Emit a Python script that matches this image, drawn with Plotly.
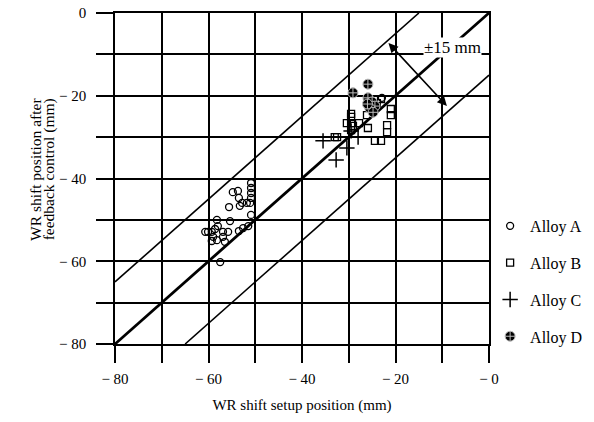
import plotly.graph_objects as go

# Alloy A (open circles)
xA = [-50.9, -50.9, -50.9, -50.9, -54.8, -53.7, -53.5, -52.8, -51.8, -51.1, -53.3, -55.6,
      -50.9, -55.4, -58.2, -58.0, -58.6, -60.7, -60.1, -59.3, -56.9, -55.8, -59.0, -59.3,
      -58.2, -56.9, -56.5, -53.5, -52.6, -51.5, -57.5, -22.9]
yA = [-41.1, -42.3, -43.5, -44.7, -43.3, -43.0, -44.7, -45.9, -45.9, -45.9, -46.6, -46.9,
      -48.8, -50.3, -50.0, -51.5, -52.2, -52.9, -52.9, -52.9, -52.9, -52.9, -54.1, -55.1,
      -54.9, -54.1, -55.3, -52.7, -52.0, -51.5, -60.2, -20.5]
# Alloy B (open squares)
xB = [-29.5, -29.5, -30.4, -29.5, -27.8, -25.9, -29.5, -32.5, -33.0, -24.4, -23.1, -21.8,
      -21.8, -21.0, -21.0, -23.1, -24.0, -25.5, -26.1, -29.1]
yB = [-24.4, -25.1, -26.6, -26.6, -26.6, -27.8, -28.3, -30.0, -30.0, -30.9, -30.9, -28.8,
      -27.1, -23.2, -24.7, -20.8, -21.8, -22.2, -24.7, -27.3]
# Alloy C (plus)
xC = [-35.5, -32.7, -30.4, -28.0, -29.5]
yC = [-30.9, -35.5, -32.6, -30.0, -28.5]
# Alloy D (filled circle with cross)
xD = [-25.9, -29.1, -25.9, -25.0, -24.4, -25.5, -24.8, -26.0]
yD = [-17.2, -19.3, -20.5, -21.5, -22.5, -23.0, -24.0, -22.0]

# reference lines y = x, y = x +/- 15
ideal_x = [-80, 0]
ideal_y = [-80, 0]
upper_x = [-80, -15]
upper_y = [-65, 0]
lower_x = [-65, 0]
lower_y = [-80, -15]

tick_vals = [-80, -70, -60, -50, -40, -30, -20, -10, 0]
x_tick_text = ["\u2212 80", "", "\u2212 60", "", "\u2212 40", "", "\u2212 20", "", "\u2212 0"]
y_tick_text = ["\u2212 80", "", "\u2212 60", "", "\u2212 40", "", "\u2212 20", "", "0"]

FONT = "Liberation Serif"
FS = 15

fig = go.Figure()
fig.add_trace(go.Scatter(x=ideal_x, y=ideal_y, mode="lines", line=dict(color="black", width=2.8),
                         showlegend=False, hoverinfo="skip"))
fig.add_trace(go.Scatter(x=upper_x, y=upper_y, mode="lines", line=dict(color="black", width=1.6),
                         showlegend=False, hoverinfo="skip"))
fig.add_trace(go.Scatter(x=lower_x, y=lower_y, mode="lines", line=dict(color="black", width=1.6),
                         showlegend=False, hoverinfo="skip"))

fig.add_trace(go.Scatter(x=xA, y=yA, mode="markers", name="Alloy A", legendgroup="A",
                         marker=dict(symbol="circle-open", size=7, color="black", line=dict(width=1.3))))
fig.add_trace(go.Scatter(x=xB, y=yB, mode="markers", name="Alloy B", legendgroup="B",
                         marker=dict(symbol="square-open", size=7, color="black", line=dict(width=1.3))))
fig.add_trace(go.Scatter(x=xC, y=yC, mode="markers", name="Alloy C", legendgroup="C",
                         marker=dict(symbol="cross-thin-open", size=11, color="black", line=dict(width=1.5))))
fig.add_trace(go.Scatter(x=xD, y=yD, mode="markers", name="Alloy D", legendgroup="D",
                         marker=dict(symbol="circle-cross", size=10, color="black",
                                     line=dict(width=1, color="#bbbbbb"))))

fig.add_annotation(x=-9.0, y=-22.5, ax=-21.8, ay=-6.9, xref="x", yref="y", axref="x", ayref="y",
                   text="", showarrow=True, arrowhead=2, arrowside="end+start", arrowsize=1.2,
                   arrowwidth=1.6, arrowcolor="black")
fig.add_annotation(x=-14.2, y=-8.4, xref="x", yref="y", text="\u00b115 mm", showarrow=False,
                   xanchor="left", yanchor="middle", bgcolor="white", borderpad=0,
                   font=dict(family=FONT, size=17, color="black"))

# y-axis title, two tightly spaced lines
fig.add_annotation(x=-0.213, y=0.527, xref="paper", yref="paper", text="WR shift position after",
                   textangle=-90, showarrow=False, xanchor="center", yanchor="middle",
                   font=dict(family=FONT, size=15.5, color="black"))
fig.add_annotation(x=-0.177, y=0.527, xref="paper", yref="paper", text="feedback control (mm)",
                   textangle=-90, showarrow=False, xanchor="center", yanchor="middle",
                   font=dict(family=FONT, size=15.5, color="black"))

axis_common = dict(range=[-80, 0], tickvals=tick_vals, showgrid=True, gridcolor="black", gridwidth=1.7,
                   zeroline=False, showline=True, linecolor="black", linewidth=1.7, mirror=True,
                   ticks="outside", ticklen=17, tickwidth=1.7, tickcolor="black", automargin=False,
                   ticklabeloverflow="allow",
                   tickfont=dict(family=FONT, size=FS, color="black"))

fig.update_xaxes(**axis_common, ticktext=x_tick_text, ticklabelstandoff=3,
                 title=dict(text="WR shift setup position (mm)", font=dict(family=FONT, size=FS, color="black"),
                            standoff=14))
fig.update_yaxes(**axis_common, ticktext=y_tick_text, ticklabelstandoff=7)

# page body has an 8px margin, so margins are shifted to place the plot area as in the reference
fig.update_layout(
    width=594, height=422,
    margin=dict(l=107, r=113, t=5, b=86),
    paper_bgcolor="white", plot_bgcolor="white",
    font=dict(family=FONT, size=FS, color="black"),
    legend=dict(x=1.003, y=0.408, xanchor="left", yanchor="top", traceorder="grouped",
                tracegroupgap=13, font=dict(family=FONT, size=16, color="black"),
                bgcolor="rgba(0,0,0,0)", itemwidth=30),
)

fig.write_html("out.html")
